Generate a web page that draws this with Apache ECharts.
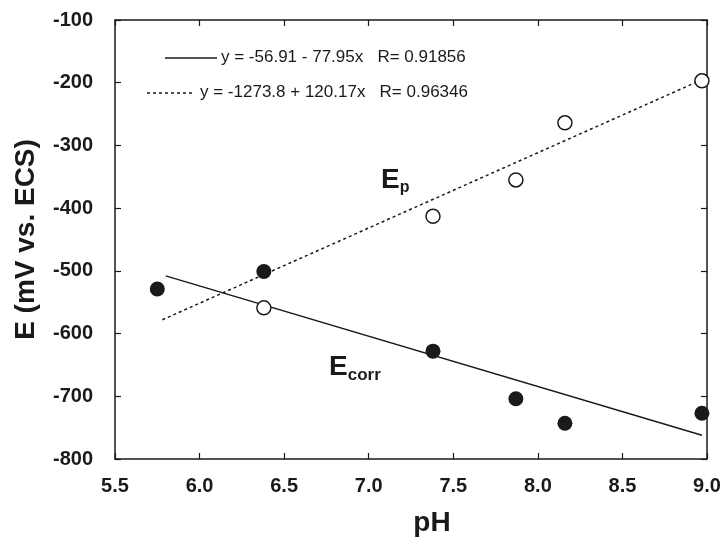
<!DOCTYPE html>
<html>
<head>
<meta charset="utf-8">
<script src="https://cdn.jsdelivr.net/npm/echarts@6/dist/echarts.min.js"></script>
<style>
  html, body { margin: 0; padding: 0; background: #fff; }
  #chart { width: 723px; height: 540px; }
</style>
</head>
<body>
<div id="chart"></div>
<script>
const ecorrPH = [5.75, 6.38, 7.38, 7.87, 8.16, 8.97];
const ecorrE = [-529, -501, -628, -704, -743, -727];
const epPH = [6.38, 7.38, 7.87, 8.16, 8.97];
const epE = [-559, -413, -355, -264, -197];

// fitted line end points
const ecorrFitPH = [5.8, 8.97];
const ecorrFitE = [-508, -762];
const epFitPH = [5.78, 8.98];
const epFitE = [-578, -194];

const fitNames = [
  "y = -56.91 - 77.95x   R= 0.91856",
  "y = -1273.8 + 120.17x   R= 0.96346",
];

const zip = (a, b) => a.map((v, i) => [v, b[i]]);
const font = "Liberation Sans, Arial, sans-serif";
const ink = "#1a1a1a";

const chart = echarts.init(document.getElementById("chart"));

const tickCommon = {
  axisLine: { show: true, onZero: false, lineStyle: { color: ink, width: 1.5 } },
  axisTick: { show: true, inside: true, length: 6, lineStyle: { color: ink, width: 1.2 } },
  splitLine: { show: false },
};

const tickFont = { fontFamily: font, fontSize: 20, fontWeight: "bold", color: ink };

chart.setOption({
  backgroundColor: "#fff",
  animation: false,
  grid: { left: 115, right: 16, top: 20, bottom: 81, outerBoundsMode: "none" },
  xAxis: [
    {
      ...tickCommon,
      type: "value",
      min: 5.5,
      max: 9.0,
      interval: 0.5,
      name: "pH",
      nameLocation: "middle",
      nameGap: 50,
      nameTextStyle: { fontFamily: font, fontSize: 28, fontWeight: "bold", color: ink, padding: [0, 0, 0, 42] },
      axisLabel: { ...tickFont, margin: 17, formatter: (v) => v.toFixed(1) },
    },
    {
      ...tickCommon,
      type: "value",
      position: "top",
      min: 5.5,
      max: 9.0,
      interval: 0.5,
      axisLabel: { show: false },
    },
  ],
  yAxis: [
    {
      ...tickCommon,
      type: "value",
      min: -800,
      max: -100,
      interval: 100,
      name: "E (mV vs. ECS)",
      nameLocation: "middle",
      nameGap: 75,
      nameTextStyle: { fontFamily: font, fontSize: 28, fontWeight: "bold", color: ink },
      axisLabel: { ...tickFont, margin: 22 },
    },
    {
      ...tickCommon,
      type: "value",
      position: "right",
      min: -800,
      max: -100,
      interval: 100,
      axisLabel: { show: false },
    },
  ],
  series: [
    {
      name: fitNames[0],
      type: "line",
      symbol: "none",
      data: zip(ecorrFitPH, ecorrFitE),
      lineStyle: { color: ink, width: 1.5, type: "solid" },
      z: 2,
    },
    {
      name: fitNames[1],
      type: "line",
      symbol: "none",
      data: zip(epFitPH, epFitE),
      lineStyle: { color: ink, width: 1.5, type: [3, 3] },
      z: 2,
    },
    {
      name: "Ecorr",
      type: "scatter",
      symbol: "circle",
      symbolSize: 15,
      data: zip(ecorrPH, ecorrE),
      itemStyle: { color: ink, opacity: 1 },
      z: 3,
    },
    {
      name: "Ep",
      type: "scatter",
      symbol: "circle",
      symbolSize: 14,
      data: zip(epPH, epE),
      itemStyle: { color: "#fff", borderColor: ink, borderWidth: 1.5, opacity: 1 },
      z: 3,
    },
  ],
  graphic: [
    // legend for the two fits
    {
      type: "line",
      shape: { x1: 165, y1: 58, x2: 217, y2: 58 },
      style: { stroke: ink, lineWidth: 1.5 },
    },
    {
      type: "text",
      left: 221,
      top: 49,
      style: { text: fitNames[0], fontFamily: font, fontSize: 17, fill: ink },
    },
    {
      type: "line",
      shape: { x1: 147, y1: 93, x2: 195, y2: 93 },
      style: { stroke: ink, lineWidth: 1.5, lineDash: [3, 3] },
    },
    {
      type: "text",
      left: 200,
      top: 84,
      style: { text: fitNames[1], fontFamily: font, fontSize: 17, fill: ink },
    },
    // curve labels
    {
      type: "text",
      left: 381,
      top: 166,
      style: {
        text: "{a|E}{b|p}",
        rich: {
          a: { fontFamily: font, fontSize: 28, fontWeight: "bold", fill: ink },
          b: { fontFamily: font, fontSize: 16, fontWeight: "bold", fill: ink, padding: [16, 0, 0, 0] },
        },
      },
    },
    {
      type: "text",
      left: 329,
      top: 353,
      style: {
        text: "{a|E}{b|corr}",
        rich: {
          a: { fontFamily: font, fontSize: 28, fontWeight: "bold", fill: ink },
          b: { fontFamily: font, fontSize: 17, fontWeight: "bold", fill: ink, padding: [16, 0, 0, 0] },
        },
      },
    },
  ],
});
</script>
</body>
</html>
